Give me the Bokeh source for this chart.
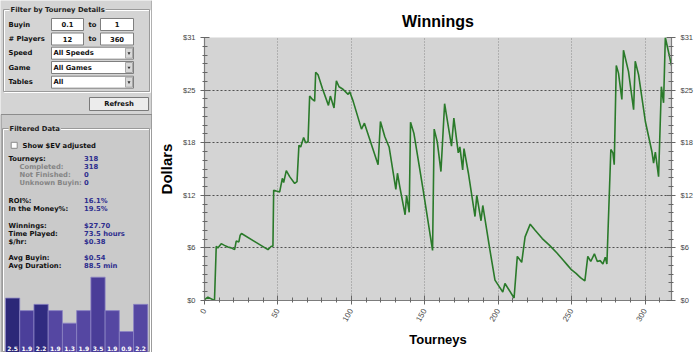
import math
from bokeh.plotting import figure
from bokeh.models import Range1d, LinearAxis, FixedTicker, Grid, CustomJSTickFormatter
from bokeh.layouts import row
from bokeh.embed import file_html
from bokeh.resources import INLINE
from bokeh.core.properties import value

# ---------------- data ----------------
tourney = [0, 2.3, 6.8, 8.0, 9.1, 11.4, 13.6, 15.9, 18.2, 20.5,
           21.6, 23.4, 24.3, 25.2, 43.2, 45.5, 46.6, 47.1, 48.9, 51.2,
           53.0, 53.9, 55.7, 58.0, 61.4, 63.0, 64.3, 65.5, 67.5, 68.9,
           70.5, 71.6, 73.5, 75.0, 75.7, 77.3, 80.3, 84.4, 85.7, 88.2,
           89.8, 91.6, 94.3, 96.6, 97.8, 98.9, 101.2, 106.9, 108.9, 118.2,
           119.8, 122.8, 125.7, 130.3, 131.4, 133.0, 136.6, 137.6, 139.4, 140.3,
           142.6, 148.9, 155.3, 156.4, 158.5, 161.0, 163.5, 168.2, 169.8, 172.8,
           173.9, 175.8, 176.7, 179.7, 184.2, 185.4, 188.3, 189.5, 194.4, 197.8,
           200.8, 203.1, 204.6, 210.8, 213.0, 216.0, 218.3, 221.8, 225.0, 230.0,
           235.0, 240.0, 244.0, 247.0, 250.0, 253.0, 256.0, 259.0, 261.0, 263.0,
           265.5, 267.5, 269.4, 271.3, 272.9, 274.0, 276.7, 278.1, 279.0, 280.4,
           281.9, 284.2, 285.3, 288.7, 292.2, 293.3, 295.6, 300.2, 304.7, 305.8,
           307.0, 309.2, 311.1, 312.6, 313.8, 318.0]
dollars = [0.1, 0.4, 0.0, 6.4, 6.2, 6.7, 6.5, 6.3, 6.2, 6.0,
           7.0, 6.9, 7.7, 7.9, 6.0, 6.4, 6.4, 13.0, 12.9, 12.8,
           14.4, 13.9, 15.3, 14.6, 13.8, 14.0, 18.3, 18.1, 19.2, 18.6,
           18.7, 24.1, 23.7, 23.5, 26.9, 26.6, 25.0, 23.0, 24.1, 22.7,
           25.9, 25.2, 24.9, 24.5, 24.3, 24.6, 23.5, 20.2, 20.9, 16.0,
           21.1, 19.3, 18.1, 13.1, 15.0, 13.4, 10.1, 12.4, 10.4, 21.0,
           19.7, 13.0, 5.9, 20.2, 18.7, 15.2, 23.2, 18.2, 21.5, 17.4,
           18.1, 15.4, 17.9, 15.0, 9.9, 12.4, 9.4, 11.2, 5.9, 2.4,
           1.6, 1.0, 2.0, 0.3, 5.2, 4.5, 7.5, 9.0, 8.3, 7.3,
           6.5, 5.6, 4.8, 4.2, 3.6, 3.2, 2.7, 2.3, 5.2, 4.6,
           5.5, 4.6, 4.7, 4.3, 5.1, 4.3, 17.8, 17.4, 16.0, 27.7,
           26.8, 23.7, 29.5, 27.0, 22.5, 28.2, 26.6, 21.1, 17.5, 16.2,
           17.5, 14.6, 25.2, 23.3, 31.0, 27.7]

x_ticks = [0, 50, 100, 150, 200, 250, 300]
y_ticks = [0, 6.2, 12.4, 18.6, 24.8, 31]
y_tick_labels = ["$0", "$6", "$12", "$18", "$25", "$31"]

filter_labels = ["Buyin", "# Players", "Speed", "Game", "Tables"]
range_from = ["0.1", "12"]
range_to = ["1", "360"]
combo_values = ["All Speeds", "All Games", "All"]

stat_labels = ["Tourneys:", "Completed:", "Not Finished:", "Unknown Buyin:",
               "ROI%:", "In the Money%:", "Winnings:", "Time Played:",
               "$/hr:", "Avg Buyin:", "Avg Duration:"]
stat_values = ["318", "318", "0", "0", "16.1%", "19.5%", "$27.70",
               "73.5 hours", "$0.38", "$0.54", "88.5 min"]
stat_is_sub = [False, True, True, True, False, False, False, False,
               False, False, False]

bar_values = [2.5, 1.9, 2.2, 1.9, 1.3, 1.9, 3.5, 1.9, 0.9, 2.2]

# ---------------- styles / layout ----------------
UI_FONT = value("DejaVu Sans")
UI_SIZE = "6.8px"
PANEL_TOP = "#d4d4d4"
PANEL_LOW = "#cacaca"
VALUE_COLOR = "#2e2e8e"
SUB_COLOR = "#858585"
bar_colors = ["#2c2878", "#4b3f9a", "#302b80", "#5547a2", "#5a4ba6",
              "#5547a2", "#4a3d98", "#5547a2", "#5b4ca8", "#5547a2"]

row_y = [24, 38.5, 52.7, 67, 81.7]
stat_y = [158.3, 166, 174.3, 182.3, 200, 208.3, 225.3, 233.3, 241.7, 257.3, 265.7]

# ---------------- left panel ----------------
left = figure(width=152, height=352, x_range=Range1d(0, 152), y_range=Range1d(352, 0),
              x_axis_type=None, y_axis_type=None, toolbar_location=None,
              output_backend="svg", min_border=0,
              background_fill_color=PANEL_TOP, border_fill_color=PANEL_TOP)
left.outline_line_color = None
left.frame_align = False
left.extra_x_ranges = {"bars": Range1d(-0.351, 10.33)}
left.extra_y_ranges = {"bars": Range1d(-0.105, 16.745)}

# lower panel
left.quad(left=[0.5], right=[151.5], top=[114], bottom=[352],
          fill_color=PANEL_LOW, line_color="#8c8c8c")
left.segment(x0=[151.5], y0=[0], x1=[151.5], y1=[352], line_color="#8c8c8c")


def group_box(x0, x1, y0, y1, title, bg):
    left.quad(left=[x0 + 1], right=[x1 + 1], top=[y0 + 1], bottom=[y1 + 1],
              fill_color=None, line_color="white")
    left.quad(left=[x0], right=[x1], top=[y0], bottom=[y1],
              fill_color=None, line_color="#9a9a9a")
    left.text(x=[x0 + 6], y=[y0], text=[title], text_font=UI_FONT,
              text_font_size=UI_SIZE, text_font_style="bold", text_color="#222222",
              text_baseline="middle", background_fill_color=bg, padding=1)


group_box(3, 149, 9, 91, "Filter by Tourney Details", PANEL_TOP)

def ui_text(x, y, txt, color="#111111", align="left"):
    left.text(x=x, y=y, text=txt, text_font=UI_FONT, text_font_size=UI_SIZE,
              text_font_style="bold", text_color=color, text_baseline="middle",
              text_align=align)

ui_text(8, row_y, filter_labels)

# range inputs
for i in range(2):
    yc = row_y[i]
    left.quad(left=[51, 100], right=[83, 133], top=[yc - 6, yc - 6], bottom=[yc + 6, yc + 6],
              fill_color="white", line_color="#7f7f7f")
    ui_text([67, 116.5], [yc, yc], [range_from[i], range_to[i]], align="center")
    ui_text([92], [yc], ["to"], align="center")

# combos
for i in range(3):
    yc = row_y[i + 2]
    left.quad(left=[51], right=[133], top=[yc - 6], bottom=[yc + 6],
              fill_color="white", line_color="#7f7f7f")
    left.quad(left=[125], right=[132], top=[yc - 5], bottom=[yc + 5],
              fill_color="#d8d8d8", line_color="#a8a8a8")
    left.scatter(x=[128.5], y=[yc], marker="inverted_triangle", size=3,
                 fill_color="#333333", line_color=None)
    ui_text([53], [yc], [combo_values[i]])

# refresh button
left.quad(left=[89], right=[148], top=[97], bottom=[110],
          fill_color="#ececec", line_color="#7a7a7a")
ui_text([118.5], [103.5], ["Refresh"], align="center")

# filtered data group
group_box(2, 149, 128, 351, "Filtered Data", PANEL_LOW)
left.quad(left=[10.7], right=[16.7], top=[141.8], bottom=[147.8],
          fill_color="white", line_color="#8a8a8a")
ui_text([22], [145], ["Show $EV adjusted"])

lab_x = [19 if s else 8 for s in stat_is_sub]
lab_c = [SUB_COLOR if s else "#111111" for s in stat_is_sub]
left.text(x=lab_x, y=stat_y, text=stat_labels, text_font=UI_FONT, text_font_size=UI_SIZE,
          text_font_style="bold", text_color=lab_c, text_baseline="middle")
ui_text(83.5, stat_y, stat_values, color=VALUE_COLOR)

# mini bar chart
bar_x = [i + 0.5 for i in range(len(bar_values))]
left.vbar(x=bar_x, top=bar_values, bottom=-0.105, width=1.0,
          fill_color=bar_colors, line_color="#8c84c4", line_width=0.8,
          x_range_name="bars", y_range_name="bars")
left.text(x=bar_x, y=347.5, text=[f"{v:.1f}" for v in bar_values], x_range_name="bars",
          text_font=UI_FONT, text_font_size="6px", text_font_style="bold",
          text_color="white", text_align="center", text_baseline="middle")

# ---------------- main chart ----------------
CH_FONT = "Liberation Sans"
p = figure(width=548, height=352, x_range=Range1d(0, 318), y_range=Range1d(0, 31),
           x_axis_type=None, y_axis_type=None, toolbar_location=None,
           output_backend="svg",
           min_border_left=52, min_border_right=29, min_border_top=37, min_border_bottom=52,
           background_fill_color="#d4d4d4", border_fill_color="white")
p.outline_line_color = None
p.frame_align = False

p.title.text = "Winnings"
p.title.align = "center"
p.title.text_font = CH_FONT
p.title.text_font_size = "16px"
p.title.text_font_style = "bold"
p.title.text_color = "#000000"
p.title.standoff = 16

xt = FixedTicker(ticks=x_ticks, minor_ticks=list(range(0, 320, 10)))
yt = FixedTicker(ticks=y_ticks, minor_ticks=[i * 31 / 30 for i in range(31)])
yfmt = CustomJSTickFormatter(args=dict(tvals=y_ticks, tlabels=y_tick_labels),
                             code="""
let k = -1;
for (let j = 0; j < tvals.length; j++) { if (Math.abs(tvals[j] - tick) < 1e-6) { k = j; } }
return k >= 0 ? tlabels[k] : '';
""")


def style_axis(ax):
    ax.axis_line_color = "#7c7c7c"
    ax.axis_line_width = 1.2
    ax.major_tick_line_color = "#666666"
    ax.minor_tick_line_color = "#666666"
    ax.major_tick_in = 5
    ax.major_tick_out = 4
    ax.minor_tick_in = 3
    ax.minor_tick_out = 2
    ax.major_label_text_font = CH_FONT
    ax.major_label_text_font_size = "7.5px"
    ax.major_label_text_color = "#444444"
    ax.axis_label_text_font = CH_FONT
    ax.axis_label_text_font_style = "bold"
    ax.axis_label_text_color = "#000000"
    ax.major_label_standoff = 5


xaxis = LinearAxis(ticker=xt, axis_label="Tourneys")
style_axis(xaxis)
xaxis.major_label_orientation = math.pi / 3
xaxis.major_label_text_font_size = "8px"
xaxis.major_label_text_color = "#4a4a4a"
xaxis.axis_label_text_font_size = "13px"
p.add_layout(xaxis, "below")

yaxis = LinearAxis(ticker=yt, formatter=yfmt, axis_label="Dollars")
style_axis(yaxis)
yaxis.axis_label_text_font_size = "15px"
p.add_layout(yaxis, "left")

yaxis_r = LinearAxis(ticker=yt, formatter=yfmt)
style_axis(yaxis_r)
p.add_layout(yaxis_r, "right")

p.add_layout(Grid(dimension=0, ticker=xt, grid_line_color="#8a8a8a",
                  grid_line_dash="1 2", grid_line_width=1))
p.add_layout(Grid(dimension=1, ticker=yt, grid_line_color="#505050",
                  grid_line_dash="2 2", grid_line_width=1))

p.line(tourney, dollars, line_color="#2a7a2a", line_width=1.6)

layout = row(left, p)
open("out.html", "w").write(file_html(layout, INLINE))
